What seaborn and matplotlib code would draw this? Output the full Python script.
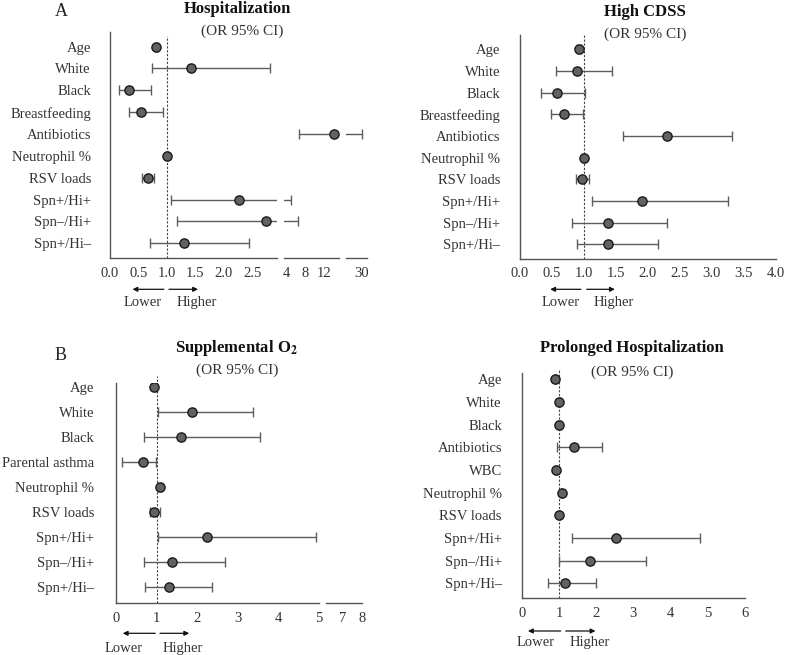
import numpy as np
import pandas as pd
import matplotlib
matplotlib.use('Agg')
import matplotlib.pyplot as plt
import seaborn as sns

W, H = 786, 655

# odds ratios (OR) with 95% CI
hosp_labels = ['Age', 'White', 'Black', 'Breastfeeding', 'Antibiotics', 'Neutrophil %',
               'RSV loads', 'Spn+/Hi+', 'Spn–/Hi+', 'Spn+/Hi–']
hosp_or = [0.82, 1.43, 0.33, 0.55, 14.1, 1.01, 0.67, 2.27, 2.74, 1.30]
hosp_lo = [0.79, 0.74, 0.16, 0.33, 6.7, 0.99, 0.56, 1.08, 1.18, 0.70]
hosp_hi = [0.85, 2.81, 0.72, 0.94, 30.1, 1.03, 0.78, 4.85, 6.5, 2.44]

cdss_labels = ['Age', 'White', 'Black', 'Breastfeeding', 'Antibiotics', 'Neutrophil %',
               'RSV loads', 'Spn+/Hi+', 'Spn–/Hi+', 'Spn+/Hi–']
cdss_or = [0.93, 0.90, 0.58, 0.69, 2.31, 1.00, 0.98, 1.92, 1.38, 1.39]
cdss_lo = [0.90, 0.57, 0.33, 0.49, 1.61, 0.98, 0.88, 1.13, 0.82, 0.90]
cdss_hi = [0.96, 1.45, 1.03, 0.99, 3.32, 1.03, 1.09, 3.25, 2.30, 2.16]

o2_labels = ['Age', 'White', 'Black', 'Parental asthma', 'Neutrophil %', 'RSV loads',
             'Spn+/Hi+', 'Spn–/Hi+', 'Spn+/Hi–']
o2_or = [0.94, 1.86, 1.60, 0.67, 1.07, 0.93, 2.24, 1.37, 1.30]
o2_lo = [0.90, 1.02, 0.69, 0.13, 1.03, 0.83, 1.02, 0.69, 0.71]
o2_hi = [0.98, 3.37, 3.56, 0.97, 1.11, 1.08, 4.93, 2.68, 2.36]

prol_labels = ['Age', 'White', 'Black', 'Antibiotics', 'WBC', 'Neutrophil %',
               'RSV loads', 'Spn+/Hi+', 'Spn–/Hi+', 'Spn+/Hi–']
prol_or = [0.90, 1.01, 1.01, 1.41, 0.91, 1.07, 1.01, 2.53, 1.84, 1.17]
prol_lo = [0.88, 0.99, 0.98, 0.93, 0.89, 1.05, 0.99, 1.34, 1.01, 0.69]
prol_hi = [0.92, 1.03, 1.04, 2.15, 0.93, 1.09, 1.03, 4.80, 3.34, 1.99]

sns.set_theme(style='white')
plt.rcParams['font.family'] = ['Liberation Serif', 'DejaVu Serif']
plt.rcParams['mathtext.fontset'] = 'stix'

LINE = '#555555'
TXT = '#333333'
FS = 10.5

fig = plt.figure(figsize=(W / 100, H / 100), dpi=100)
fig.patch.set_facecolor('white')


def px_rect(x0, x1, ytop, ybot):
    return [x0 / W, 1 - ybot / H, (x1 - x0) / W, (ybot - ytop) / H]


def fig_text(x, y, s, **kw):
    fig.text(x / W, 1 - y / H, s, ha='center', va='center', **kw)


def draw_panel(labels, ors, los, his, segs, ytop, ybot, ylim, ypad, dot_top,
               arrow_y, arrows, word_y, words, tick_y_pad=6):
    df = pd.DataFrame({'label': labels, 'OR': ors, 'lo': los, 'hi': his})
    df['pos'] = np.arange(len(df))
    axes = []
    for i, (x0px, x1px, xlim, ticks, ticklabels) in enumerate(segs):
        ax = fig.add_axes(px_rect(x0px, x1px, ytop, ybot))
        ax.set_facecolor('none')
        ax.errorbar(df['OR'], df['pos'], xerr=[df['OR'] - df['lo'], df['hi'] - df['OR']],
                    fmt='none', ecolor='#5c5c5c', elinewidth=1.0, capsize=3.5,
                    capthick=1.0, zorder=2)
        # only the points that fall inside this piece of the broken axis
        pts = df[(df['OR'] >= xlim[0]) & (df['OR'] <= xlim[1])]
        if len(pts):
            sns.scatterplot(data=pts, x='OR', y='pos', ax=ax, s=44, color='#626262',
                            edgecolor='#1a1a1a', linewidth=1.0, zorder=3, legend=False)
        ax.set_xlim(*xlim)
        ax.set_ylim(*ylim)
        ax.set_xlabel('')
        ax.set_ylabel('')
        ax.set_xticks(ticks)
        ax.set_xticklabels(ticklabels)
        ax.tick_params(axis='x', direction='in', length=3.5, width=1.0, color=LINE,
                       pad=tick_y_pad, labelsize=FS, labelcolor=TXT)
        for side in ['top', 'right']:
            ax.spines[side].set_visible(False)
        ax.spines['bottom'].set_color(LINE)
        ax.spines['bottom'].set_linewidth(1.0)
        if i == 0:
            ax.spines['left'].set_color(LINE)
            ax.spines['left'].set_linewidth(1.0)
            ax.set_yticks(df['pos'])
            ax.set_yticklabels(df['label'])
            ax.tick_params(axis='y', direction='out', length=3, width=1.0, color=LINE,
                           pad=ypad, labelsize=FS, labelcolor=TXT)
            ymax = (ybot - dot_top) / (ybot - ytop)
            ax.axvline(1.0, ymin=0, ymax=ymax, color='#444444', lw=0.8,
                       ls=(0, (2, 1.5)), zorder=1, clip_on=False)
            # direction arrows and words under the axis
            ya = (ybot - arrow_y) / (ybot - ytop)
            yw = (ybot - word_y) / (ybot - ytop)
            tr = ax.get_xaxis_transform()
            for tail, head in arrows:
                ax.annotate('', xy=(head, ya), xytext=(tail, ya), xycoords=tr,
                            arrowprops=dict(arrowstyle='-|>', color='#111111', lw=0.9,
                                            mutation_scale=7, shrinkA=0, shrinkB=0),
                            annotation_clip=False)
            for xw, word in words:
                ax.text(xw, yw, word, transform=tr, ha='center', va='center',
                        fontsize=FS, color=TXT)
        else:
            ax.spines['left'].set_visible(False)
            ax.set_yticks([])
        axes.append(ax)
    return axes


# A: Hospitalization (broken x axis, three pieces)
draw_panel(hosp_labels, hosp_or, hosp_lo, hosp_hi,
           segs=[(109.7, 276.7, (0, 2.93), [0, 0.5, 1.0, 1.5, 2.0, 2.5, 2.93],
                  ['0.0', '0.5', '1.0', '1.5', '2.0', '2.5', '']),
                 (284.0, 339.3, (3.43, 15.2), [3.43, 4, 8, 12, 15.2],
                  ['', '4', '8', '12', '']),
                 (346.0, 367.3, (26.7, 31.2), [26.7, 30, 31.2], ['', '30', ''])],
           ytop=32, ybot=258.3, ylim=(9.69, -0.67), ypad=10.5, dot_top=36,
           arrow_y=289.3, arrows=[(0.95, 0.40), (1.04, 1.55)],
           word_y=302.7, words=[(0.58, 'Lower'), (1.53, 'Higher')])
fig_text(61.7, 11, 'A', fontsize=13, color='#222222')
fig_text(237, 9, 'Hospitalization', fontsize=12, fontweight='bold', color='#111111')
fig_text(241.7, 31, '(OR 95% CI)', fontsize=11, color=TXT)

# High CDSS
cdss_ticks = list(np.arange(0, 4.01, 0.5))
draw_panel(cdss_labels, cdss_or, cdss_lo, cdss_hi,
           segs=[(519.5, 775.5, (0, 4.0), cdss_ticks, ['%.1f' % t for t in cdss_ticks])],
           ytop=35, ybot=259, ylim=(9.68, -0.66), ypad=11, dot_top=35,
           arrow_y=289.3, arrows=[(0.96, 0.48), (1.05, 1.49)],
           word_y=302.7, words=[(0.64, 'Lower'), (1.48, 'Higher')])
fig_text(644.5, 12.5, 'High CDSS', fontsize=12, fontweight='bold', color='#111111')
fig_text(645, 34.3, '(OR 95% CI)', fontsize=11, color=TXT)

# B: Supplemental O2 (broken x axis, two pieces)
draw_panel(o2_labels, o2_or, o2_lo, o2_hi,
           segs=[(116.3, 318.8, (0, 5.0), [0, 1, 2, 3, 4, 5],
                  ['0', '1', '2', '3', '4', '5']),
                 (326.0, 361.7, (6.12, 8.0), [6.12, 7, 8], ['', '7', '8'])],
           ytop=383.3, ybot=603.3, ylim=(8.67, -0.16), ypad=13, dot_top=376,
           arrow_y=633.3, arrows=[(0.96, 0.16), (1.08, 1.80)],
           word_y=648.3, words=[(0.19, 'Lower'), (1.65, 'Higher')])
fig_text(60.7, 356, 'B', fontsize=13, color='#222222')
fig_text(236, 348.5, r'Supplemental O$_\mathbf{2}$', fontsize=12, fontweight='bold',
         color='#111111')
fig_text(236.7, 370, '(OR 95% CI)', fontsize=11, color=TXT)

# Prolonged Hospitalization
draw_panel(prol_labels, prol_or, prol_lo, prol_hi,
           segs=[(522.0, 744.7, (0, 6.0), [0, 1, 2, 3, 4, 5, 6],
                  ['0', '1', '2', '3', '4', '5', '6'])],
           ytop=372.7, ybot=598.3, ylim=(9.66, -0.29), ypad=11.5, dot_top=370,
           arrow_y=631, arrows=[(1.04, 0.16), (1.18, 1.98)],
           word_y=642.7, words=[(0.37, 'Lower'), (1.82, 'Higher')])
fig_text(632, 347.5, 'Prolonged Hospitalization', fontsize=12, fontweight='bold',
         color='#111111')
fig_text(631.7, 372.7, '(OR 95% CI)', fontsize=11, color=TXT)

fig.savefig('out.png', dpi=100, facecolor='white')
